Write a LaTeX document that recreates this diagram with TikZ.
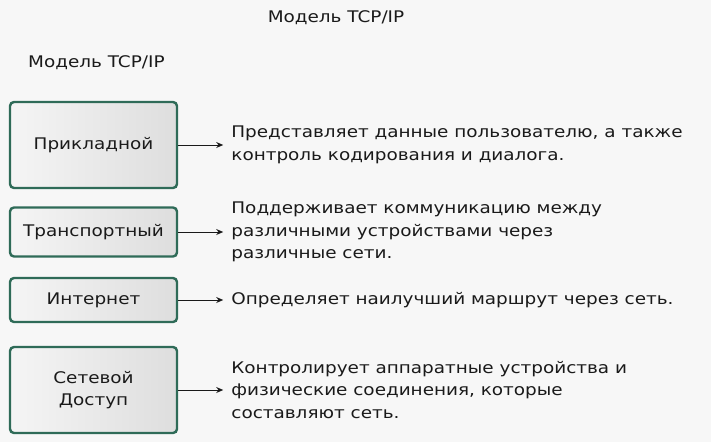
\documentclass[tikz,border=0pt]{standalone}
\usepackage{fontspec}
\setmainfont[FakeStretch=1.15]{DejaVu Sans}
\usepackage{tikz}
\usetikzlibrary{arrows}
\usetikzlibrary{arrows.meta}
\usetikzlibrary{positioning}

\definecolor{pagebg}{HTML}{F7F7F7}
\definecolor{layeredge}{HTML}{2F6B58}
\definecolor{inktext}{HTML}{1A1A1A}

\tikzset{
  layer/.style={draw=layeredge, line width=2.4pt, rounded corners=4pt,
    left color=black!4, right color=black!13, text=inktext,
    minimum width=167pt, inner sep=0pt, align=center,
    font=\fontsize{16}{22}\selectfont},
  desc/.style={align=left, inner sep=3pt, text=inktext,
    font=\fontsize{16}{22.5}\selectfont},
  heading/.style={text=inktext, inner sep=0pt, font=\fontsize{16}{20}\selectfont},
  pointer/.style={->, line width=0.9pt, draw=inktext, shorten >=5pt}
}

\begin{document}
\begin{tikzpicture}[x=1pt,y=-1pt,>={Stealth[length=7pt,width=6pt]}]
\useasboundingbox[fill=pagebg] (0,0) rectangle (711,442);

\node[heading] at (336,18) (title) {Модель TCP/IP};
\node[heading, anchor=west] at (28,63) (model) {Модель TCP/IP};

\node[layer, minimum height=86pt] at (93.5,145) (app) {Прикладной};
\node[layer, minimum height=49pt] at (93.5,232) (trans) {Транспортный};
\node[layer, minimum height=44pt] at (93.5,300) (inet) {Интернет};
\node[layer, minimum height=86pt] at (93.5,390) (netacc) {Сетевой\\Доступ};

\node[desc, right=50pt of app] (appdesc) {Представляет данные пользователю, а также\\контроль кодирования и диалога.};
\node[desc, right=50pt of trans] (transdesc) {Поддерживает коммуникацию между\\различными устройствами через\\различные сети.};
\node[desc, right=50pt of inet] (inetdesc) {Определяет наилучший маршрут через сеть.};
\node[desc, right=50pt of netacc] (netaccdesc) {Контролирует аппаратные устройства и\\физические соединения, которые\\составляют сеть.};

\path[pointer] (app) edge (appdesc);
\path[pointer] (trans) edge (transdesc);
\path[pointer] (inet) edge (inetdesc);
\path[pointer] (netacc) edge (netaccdesc);
\end{tikzpicture}
\end{document}
